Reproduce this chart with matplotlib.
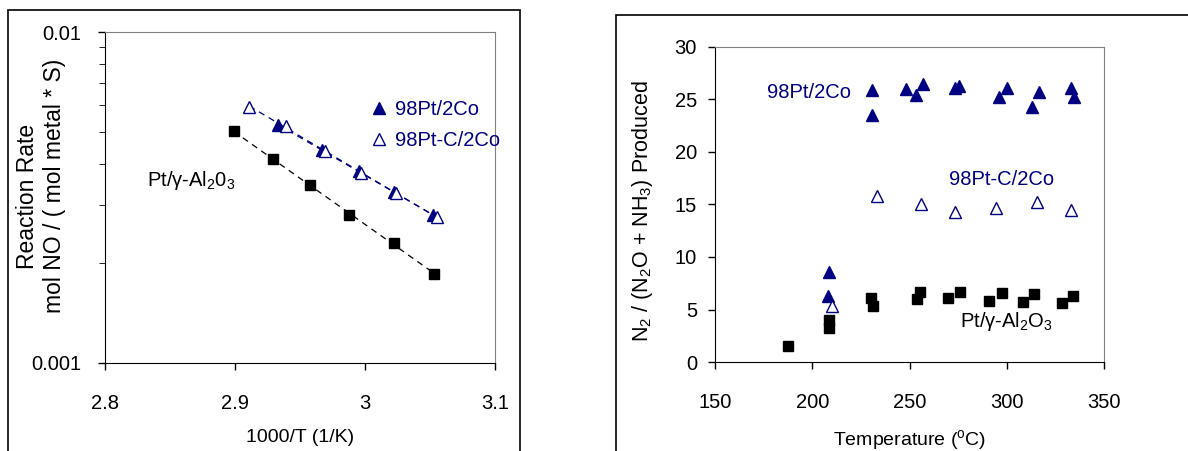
import numpy as np
import matplotlib.pyplot as plt
from matplotlib.patches import Rectangle
from matplotlib.lines import Line2D

plt.rcParams['font.family'] = ['Liberation Sans', 'DejaVu Sans']
plt.rcParams['mathtext.fontset'] = 'custom'
plt.rcParams['mathtext.rm'] = 'Liberation Sans'
plt.rcParams['mathtext.it'] = 'Liberation Sans:italic'
plt.rcParams['font.size'] = 14

navy = '#000080'

## left panel: Arrhenius data
x_pt = [2.899, 2.929, 2.958, 2.988, 3.022, 3.053]
r_pt = [0.00502, 0.00413, 0.00344, 0.00280, 0.00231, 0.00186]
x_co = [2.933, 2.967, 2.995, 3.022, 3.052]
r_co = [0.00524, 0.00440, 0.00380, 0.00329, 0.00280]
x_cc = [2.911, 2.939, 2.969, 2.997, 3.024, 3.055]
r_cc = [0.00593, 0.00520, 0.00437, 0.00375, 0.00326, 0.00276]

## right panel: selectivity vs temperature
t_co = [230.5, 230.5, 248, 253.2, 257.1, 273.4, 275.4, 296, 300, 312.8, 316.6, 333, 334.6, 208.6, 208.3]
s_co = [25.9, 23.5, 26.0, 25.4, 26.5, 26.1, 26.3, 25.2, 26.1, 24.3, 25.7, 26.1, 25.2, 8.6, 6.3]
t_cc = [210.3, 233.1, 255.8, 273.4, 294.5, 315.7, 333]
s_cc = [5.3, 15.8, 15.0, 14.3, 14.7, 15.2, 14.5]
t_pt = [187.7, 208.8, 208.8, 230, 231, 254, 255.4, 270, 276, 291, 297.7, 308.5, 314.2, 328.6, 334.2]
s_pt = [1.55, 4.0, 3.2, 6.06, 5.33, 5.97, 6.64, 6.06, 6.64, 5.84, 6.54, 5.75, 6.44, 5.65, 6.29]

fig = plt.figure(figsize=(11.88, 4.51), dpi=100)

# panel frames
fig.patches.append(Rectangle((8/1188, -0.1), 512/1188, 1.1 - 10/451, transform=fig.transFigure,
                             fill=False, edgecolor='black', linewidth=1.2, clip_on=False))
fig.patches.append(Rectangle((616/1188, -0.1), 0.5, 1.1 - 15/451, transform=fig.transFigure,
                             fill=False, edgecolor='black', linewidth=1.2, clip_on=False))


def style(ax):
    ax.spines['top'].set_color('#808080')
    ax.spines['right'].set_color('#808080')
    ax.tick_params(direction='out', length=5, width=1, labelsize=14.5)
    ax.tick_params(which='minor', direction='out', length=4)


ax1 = fig.add_axes([105/1188, 1 - 363/451, 390/1188, 331/451])
style(ax1)
ax1.set_yscale('log')
ax1.set_xlim(2.8, 3.1)
ax1.set_ylim(0.001, 0.01)
ax1.set_xticks([2.8, 2.9, 3.0, 3.1])
ax1.set_xticklabels(['2.8', '2.9', '3', '3.1'])
ax1.set_yticks([0.001, 0.01])
ax1.set_yticklabels(['0.001', '0.01'])
ax1.yaxis.set_minor_formatter(plt.NullFormatter())
ax1.tick_params(axis='x', pad=17)
ax1.tick_params(axis='y', pad=12)

for xs, ys, c in [(x_pt, r_pt, 'black'), (x_co, r_co, navy), (x_cc, r_cc, navy)]:
    k, b = np.polyfit(xs, np.log10(ys), 1)
    xx = np.array([min(xs), max(xs)])
    ax1.plot(xx, 10 ** (k * xx + b), color=c, linestyle=(0, (5, 4)), linewidth=0.9)

ax1.plot(x_pt, r_pt, 's', color='black', markersize=7, linestyle='none')
ax1.plot(x_co, r_co, '^', color=navy, markersize=8, linestyle='none')
ax1.plot(x_cc, r_cc, '^', markerfacecolor='white', markeredgecolor=navy, markersize=9,
         markeredgewidth=1, linestyle='none')

ax1.set_xlabel('1000/T (1/K)', labelpad=12)
fig.text(28/1188, 1 - 196/451, 'Reaction Rate', rotation=90, ha='center', va='center', fontsize=16.5)
fig.text(55/1188, 1 - 186/451, 'mol NO / ( mol metal * S)', rotation=90,
         ha='center', va='center', fontsize=16.5)
ax1.text(2.832, 0.00357, 'Pt/\u03b3-Al$_2$0$_3$', fontsize=14.5, va='center')

handles = [Line2D([], [], marker='^', color=navy, linestyle='none', markersize=8),
           Line2D([], [], marker='^', markerfacecolor='white', markeredgecolor=navy,
                  linestyle='none', markersize=9)]
ax1.legend(handles, ['98Pt/2Co', '98Pt-C/2Co'], loc='upper left', bbox_to_anchor=(0.66, 0.82),
           frameon=False, handlelength=0.8, handletextpad=0.4, labelspacing=0.6,
           labelcolor=navy, fontsize=14.5, borderaxespad=0)

ax2 = fig.add_axes([715/1188, 1 - 362/451, 389/1188, 315/451])
style(ax2)
ax2.set_xlim(150, 350)
ax2.set_ylim(0, 30)
ax2.set_xticks([150, 200, 250, 300, 350])
ax2.set_yticks([0, 5, 10, 15, 20, 25, 30])
ax2.tick_params(axis='x', pad=17)
ax2.tick_params(axis='y', pad=8)

ax2.plot(t_pt, s_pt, 's', color='black', markersize=7, linestyle='none')
ax2.plot(t_co, s_co, '^', color=navy, markersize=8, linestyle='none')
ax2.plot(t_cc, s_cc, '^', markerfacecolor='white', markeredgecolor=navy, markersize=9,
         markeredgewidth=1, linestyle='none')

ax2.text(176.7, 25.7, '98Pt/2Co', color=navy, fontsize=14.5, va='center')
ax2.text(270.3, 17.4, '98Pt-C/2Co', color=navy, fontsize=14.5, va='center')
ax2.text(276, 3.9, 'Pt/\u03b3-Al$_2$O$_3$', color='black', fontsize=14.5, va='center')

ax2.set_xlabel('Temperature ($^{\\rm o}$C)', labelpad=12)
fig.text(643/1188, 1 - 211/451, 'N$_2$ / (N$_2$O + NH$_3$) Produced', rotation=90,
         ha='center', va='center', fontsize=15.5)

plt.savefig('out.png', dpi=100)
